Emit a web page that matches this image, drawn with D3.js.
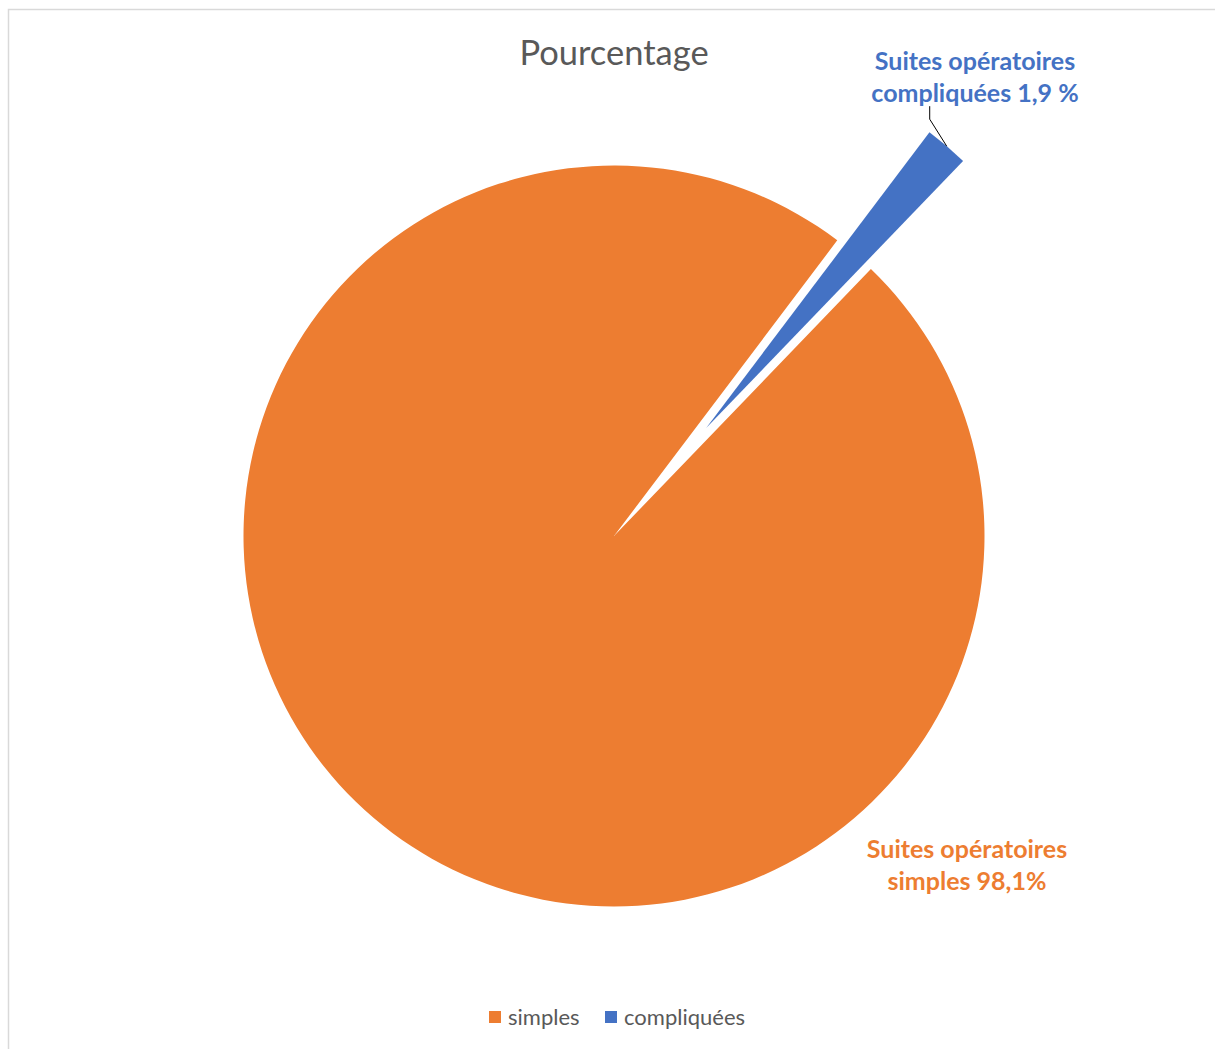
<!DOCTYPE html>
<html>
<head>
<meta charset="utf-8">
<script src="https://cdn.jsdelivr.net/npm/d3@7/dist/d3.min.js"></script>
<style>
  html, body { margin: 0; padding: 0; background: #fff; }
  svg { display: block; font-family: Lato, "Open Sans", sans-serif; }
</style>
</head>
<body>
<svg id="chart" width="1215" height="1049"></svg>
<script>
// Chart data
const categories = ["simples", "compliquées"];
const values = [98.1, 1.9];
const colors = ["#ED7D31", "#4472C4"];
const labelLines = [
  ["Suites opératoires", "simples 98,1%"],
  ["Suites opératoires", "compliquées 1,9 %"]
];
const explode = [0, 142];
const title = "Pourcentage";

const svg = d3.select("#chart");
const W = 1215, H = 1049;

// chart frame
svg.append("rect")
  .attr("x", 8.5).attr("y", 9.5)
  .attr("width", W + 10).attr("height", H + 10)
  .attr("fill", "#fff").attr("stroke", "#d9d9d9").attr("stroke-width", 1.5);

svg.append("text")
  .attr("x", 614).attr("y", 65)
  .attr("text-anchor", "middle")
  .attr("fill", "#595959")
  .style("font-size", "34.5px")
  .text(title);

const cx = 614, cy = 536, R = 370.5;
const startA = 43.9 * Math.PI / 180;

const pie = d3.pie().sort(null).value(d => d)
  .startAngle(startA).endAngle(startA + 2 * Math.PI);
const arcs = pie(values);
const arc = d3.arc().innerRadius(0).outerRadius(R);

const g = svg.append("g").attr("transform", `translate(${cx},${cy})`);

function offset(d, i) {
  const m = (d.startAngle + d.endAngle) / 2;
  return [explode[i] * Math.sin(m), -explode[i] * Math.cos(m)];
}

g.selectAll("path.slice")
  .data(arcs)
  .join("path")
  .attr("class", "slice")
  .attr("transform", (d, i) => { const o = offset(d, i); return `translate(${o[0]},${o[1]})`; })
  .attr("d", arc)
  .attr("fill", (d, i) => colors[i]);

// leader line for the small slice
{
  const d = arcs[1];
  const o = offset(d, 1);
  const m = (d.startAngle + d.endAngle) / 2;
  const ex = cx + o[0] + R * Math.sin(m);
  const ey = cy + o[1] - R * Math.cos(m);
  svg.append("polyline")
    .attr("points", `${ex},${ey} ${ex - 17},${ey - 27} ${ex - 17},${ey - 40}`)
    .attr("fill", "none").attr("stroke", "#000").attr("stroke-width", 1);
}

// data labels
const labelPos = [[967, 858], [975, 70]];
labelLines.forEach((lines, i) => {
  const t = svg.append("text")
    .attr("text-anchor", "middle")
    .attr("fill", colors[i])
    .style("font-size", "25px")
    .style("font-weight", "bold");
  lines.forEach((ln, k) => {
    t.append("tspan").attr("x", labelPos[i][0]).attr("y", labelPos[i][1] + k * 32).text(ln);
  });
});

// legend
const legend = svg.append("g").attr("transform", "translate(489,1017)");
const lx = [0, 116];
categories.forEach((c, i) => {
  const it = legend.append("g").attr("transform", `translate(${lx[i]},0)`);
  it.append("rect").attr("x", 0).attr("y", -6).attr("width", 12).attr("height", 12).attr("fill", colors[i]);
  it.append("text").attr("x", 19).attr("y", 7.5).attr("fill", "#595959")
    .style("font-size", "22px").text(c);
});
</script>
</body>
</html>
